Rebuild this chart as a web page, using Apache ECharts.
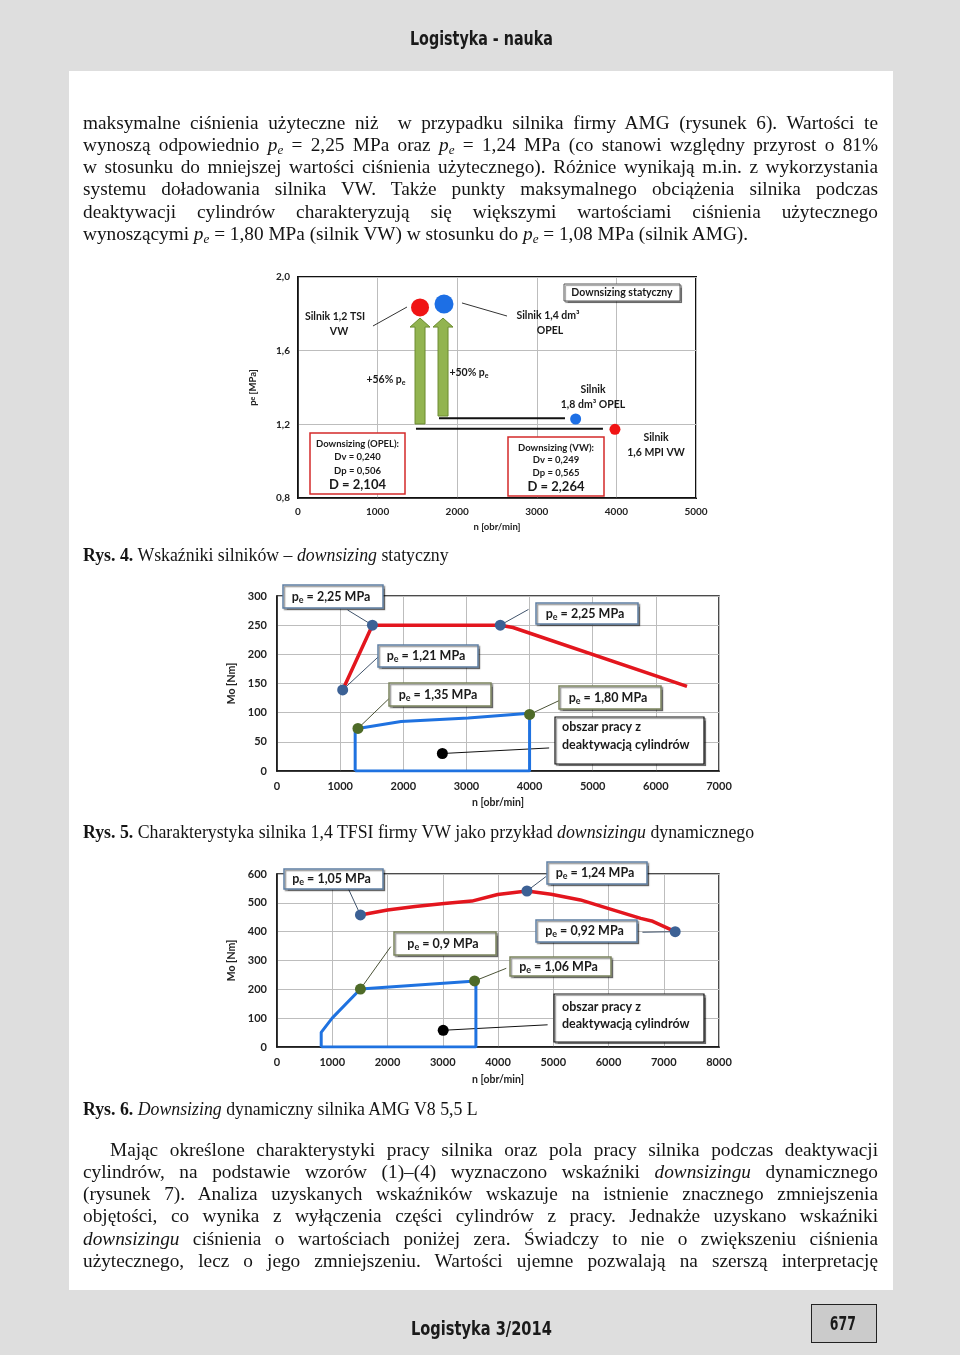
<!DOCTYPE html>
<html><head><meta charset="utf-8"><title>Downsizing</title>
<script src="https://cdn.jsdelivr.net/npm/echarts@6/dist/echarts.min.js"></script>
<style>
html,body{margin:0;padding:0;background:#dedede;}
#page{position:relative;width:960px;height:1355px;overflow:hidden;background:#dedede;}
#panel{position:absolute;left:69px;top:71px;width:824px;height:1219px;background:#fff;}
#chart{position:absolute;left:0;top:0;width:960px;height:1355px;}
.ln{position:absolute;white-space:nowrap;font-family:"Liberation Serif","Times New Roman",serif;font-size:19.3px;line-height:22px;color:#141414;}
.ln sub{font-size:0.68em;vertical-align:-0.22em;line-height:0;}
.cap{font-size:17.8px;}
.hd{position:absolute;white-space:nowrap;font-family:"DejaVu Sans Condensed","DejaVu Sans",sans-serif;font-weight:bold;font-size:19px;color:#1a1a1a;line-height:24px;}
#pgbox{position:absolute;left:811px;top:1304px;width:64px;height:37px;border:1.5px solid #222;background:#cbcbcb;}
</style></head>
<body>
<div id="page">
  <div id="panel"></div>
  <div id="chart"></div>
  <div id="pgbox"></div>
</div>
<script>
// ---------------- DATA ----------------
// Rys. 4 – downsizing statyczny  [n (obr/min), pe (MPa)]
const fig4VW   = [[1533, 1.835], [3982, 1.173]];   // Silnik 1,2 TSI VW ; Silnik 1,6 MPI VW
const fig4Opel = [[1834, 1.853], [3488, 1.229]];   // Silnik 1,4 dm3 OPEL ; Silnik 1,8 dm3 OPEL
const fig4Arrows = [[1533, 1.202, 1.777], [1822, 1.245, 1.777]]; // x, from pe, to pe
const fig4RefLines = [[[1482, 1.176], [3831, 1.176]], [[1771, 1.233], [3354, 1.233]]];
const fig4Leaders = [[[942, 1.734], [1369, 1.837]], [[2060, 1.859], [2626, 1.788]]];

// Rys. 5 – VW 1,4 TFSI  [n (obr/min), Mo (Nm)]
const fig5Full    = [[1040, 139], [1511, 250], [3536, 250], [3737, 246], [6493, 145]];
const fig5FullPts = [[1040, 139], [1511, 250], [3536, 250]];
const fig5Deact   = [[1238, 0], [1238, 67], [1282, 73], [1964, 85], [3028, 91], [4000, 99], [4000, 0], [1238, 0]];
const fig5DeactPts = [[1282, 73], [4000, 97]];
const fig5Dot     = [[2619, 30]];
const fig5DotLine = [[2619, 30], [4310, 39.5]];
const fig5Leaders = [[[1118, 276], [1511, 250]], [[3983, 277], [3536, 250]], [[1637, 199], [1040, 139]],
                     [[1773, 124], [1282, 73]], [[4474, 121], [4000, 97]]];

// Rys. 6 – AMG V8 5,5 L
const fig6Full    = [[1510, 458], [2000, 475], [2500, 487], [3026, 498], [3526, 506], [3994, 529], [4524, 541],
                     [4961, 530], [5491, 510], [5990, 481], [6583, 446], [6800, 436], [7207, 400]];
const fig6FullPts = [[1510, 458], [4524, 541], [7207, 400]];
const fig6Deact   = [[800, 0], [800, 51], [998, 100], [1510, 201], [3600, 229], [3600, 0], [800, 0]];
const fig6DeactPts = [[1510, 201], [3576, 229]];
const fig6Dot     = [[3008, 58]];
const fig6DotLine = [[3008, 58], [4898, 77]];
const fig6Leaders = [[[1279, 554], [1510, 458]], [[4867, 591], [4524, 541]], [[6614, 398], [7207, 400]],
                     [[2059, 348], [1510, 201]], [[4150, 273], [3576, 229]]];

// label texts
const fig5Labels = ['2,25', '2,25', '1,21', '1,35', '1,80'];
const fig6Labels = ['1,05', '1,24', '0,92', '0,9', '1,06'];

// body text
const PARA1 = [
 'maksymalne ciśnienia użyteczne niż&nbsp; w przypadku silnika firmy AMG (rysunek 6). Wartości te',
 'wynoszą odpowiednio <i>p<sub>e</sub></i> = 2,25 MPa oraz <i>p<sub>e</sub></i> = 1,24 MPa (co stanowi względny przyrost o 81%',
 'w stosunku do mniejszej wartości ciśnienia użytecznego). Różnice wynikają m.in. z wykorzystania',
 'systemu doładowania silnika VW. Także punkty maksymalnego obciążenia silnika podczas',
 'deaktywacji cylindrów charakteryzują się większymi wartościami ciśnienia użytecznego',
 'wynoszącymi <i>p<sub>e</sub></i> = 1,80 MPa (silnik VW) w stosunku do <i>p<sub>e</sub></i> = 1,08 MPa (silnik AMG).'
];
const PARA2 = [
 'Mając określone charakterystyki pracy silnika oraz pola pracy silnika podczas deaktywacji',
 'cylindrów, na podstawie wzorów (1)–(4) wyznaczono wskaźniki <i>downsizingu</i> dynamicznego',
 '(rysunek 7). Analiza uzyskanych wskaźników wskazuje na istnienie znacznego zmniejszenia',
 'objętości, co wynika z wyłączenia części cylindrów z pracy. Jednakże uzyskano wskaźniki',
 '<i>downsizingu</i> ciśnienia o wartościach poniżej zera. Świadczy to nie o zwiększeniu ciśnienia',
 'użytecznego, lecz o jego zmniejszeniu. Wartości ujemne pozwalają na szerszą interpretację'
];
const CAP4 = '<b>Rys. 4.</b> Wskaźniki silników – <i>downsizing</i> statyczny';
const CAP5 = '<b>Rys. 5.</b> Charakterystyka silnika 1,4 TFSI firmy VW jako przykład <i>downsizingu</i> dynamicznego';
const CAP6 = '<b>Rys. 6.</b> <i>Downsizing</i> dynamiczny silnika AMG V8 5,5 L';

// ---------------- PAGE TEXT ----------------
const page = document.getElementById('page');
function addLine(html, left, top, width, justify, cls) {
  const d = document.createElement('div');
  d.className = 'ln ' + (cls || '');
  d.innerHTML = html;
  d.style.left = left + 'px'; d.style.top = top + 'px';
  page.appendChild(d);
  if (justify) {
    const w = d.getBoundingClientRect().width;
    const n = (d.textContent.match(/[ \u00a0]/g) || []).length;
    if (n) d.style.wordSpacing = ((width - w) / n) + 'px';
  }
  return d;
}
const LSTEP = 22.3;
PARA1.forEach((t, i) => addLine(t, 83, 111.5 + i * LSTEP, 795, i < PARA1.length - 1));
PARA2.forEach((t, i) => addLine(t, i === 0 ? 110 : 83, 1138.5 + i * LSTEP, i === 0 ? 768 : 795, true));
addLine(CAP4, 83, 544, 0, false, 'cap');
addLine(CAP5, 83, 821, 0, false, 'cap');
addLine(CAP6, 83, 1098, 0, false, 'cap');

function addHead(text, cx, cy, width) {
  const d = document.createElement('div');
  d.className = 'hd'; d.textContent = text;
  page.appendChild(d);
  const w = d.getBoundingClientRect().width, h = d.getBoundingClientRect().height;
  const s = width ? width / w : 1;
  d.style.left = (cx - w / 2) + 'px'; d.style.top = (cy - h / 2) + 'px';
  d.style.transform = 'scaleX(' + s + ')';
  d.style.transformOrigin = '50% 50%';
}
addHead('Logistyka - nauka', 481, 38, 143);
addHead('Logistyka 3/2014', 481, 1328, 141);
addHead('677', 843, 1323, 26);

// ---------------- CHART ----------------
const FF = 'Lato, "Open Sans", sans-serif';
const fnt = (s, w) => (w || 'bold') + ' ' + s + 'px ' + FF;
const comma1 = v => v.toFixed(1).replace('.', ',');
const plain = v => String(Math.round(v));
const RED = '#e3161e', BLUE = '#1f72e0', MARK_B = '#3c6195', MARK_G = '#4e6b28';
const TXT = '#1a1a1a';

function axisX(gi, max, interval, size, margin, name, gap) {
  return {type: 'value', gridIndex: gi, min: 0, max: max, interval: interval,
    axisLine: {show: true, onZero: false, lineStyle: {color: '#111', width: 1.5}},
    axisTick: {show: false},
    axisLabel: {color: '#222', fontFamily: FF, fontWeight: 'bold', fontSize: size, margin: margin, formatter: plain},
    splitLine: {show: true, lineStyle: {color: '#bdbdbd', width: 1}},
    name: name, nameLocation: 'middle', nameGap: gap,
    nameTextStyle: {color: '#222', fontFamily: FF, fontWeight: 'bold', fontSize: size - 0.5}};
}
function axisY(gi, min, max, interval, size, margin, fmt, name, gap, rich) {
  return {type: 'value', gridIndex: gi, min: min, max: max, interval: interval,
    axisLine: {show: true, onZero: false, lineStyle: {color: '#111', width: 1.5}},
    axisTick: {show: false},
    axisLabel: {color: '#222', fontFamily: FF, fontWeight: 'bold', fontSize: size, margin: margin, formatter: fmt},
    splitLine: {show: true, lineStyle: {color: '#bdbdbd', width: 1}},
    name: name, nameLocation: 'middle', nameGap: gap, nameRotate: 90,
    nameTextStyle: Object.assign({color: '#222', fontFamily: FF, fontWeight: 'bold', fontSize: size - 0.5}, rich ? {rich: rich} : {})};
}

function arrowRender(params, api) {
  const x = api.value(0), y0 = api.value(1), y1 = api.value(2);
  const b = api.coord([x, y0]), t = api.coord([x, y1]);
  const sw = 5, hw = 10, hh = 9;
  return {type: 'polygon', shape: {points: [
    [b[0] - sw, b[1]], [b[0] - sw, t[1] + hh], [b[0] - hw, t[1] + hh], [b[0], t[1]],
    [b[0] + hw, t[1] + hh], [b[0] + sw, t[1] + hh], [b[0] + sw, b[1]]]},
    style: {fill: '#92b450', stroke: '#6c8c30', lineWidth: 1}};
}

const series = [];
function seg(gi, data, color, width, z) {
  series.push({type: 'line', xAxisIndex: gi, yAxisIndex: gi, data: data, symbol: 'none', silent: true,
    lineStyle: {color: color, width: width}, z: z || 3, animation: false});
}
function pts(gi, data, color, size, z) {
  series.push({type: 'scatter', xAxisIndex: gi, yAxisIndex: gi, data: data, symbolSize: size, silent: true,
    itemStyle: {color: color, opacity: 1}, z: z || 6, animation: false});
}
// fig 4
series.push({type: 'custom', xAxisIndex: 0, yAxisIndex: 0, data: fig4Arrows, renderItem: arrowRender, z: 3, silent: true, animation: false});
fig4RefLines.forEach(s => seg(0, s, '#111', 2));
fig4Leaders.forEach(s => seg(0, s, '#333', 1));
pts(0, fig4VW, '#f01414', (v, p) => p.dataIndex === 0 ? 18 : 11);
pts(0, fig4Opel, '#1d6fe5', (v, p) => p.dataIndex === 0 ? 19 : 11);
// fig 5
fig5Leaders.forEach((s, i) => seg(1, s, i < 3 ? '#40536b' : '#4a5236', 1, 2));
seg(1, fig5DotLine, '#111', 1, 2);
seg(1, fig5Full, RED, 3.5, 4);
seg(1, fig5Deact, BLUE, 3, 4);
pts(1, fig5FullPts, MARK_B, 11);
pts(1, fig5DeactPts, MARK_G, 11);
pts(1, fig5Dot, '#000', 11);
// fig 6
fig6Leaders.forEach((s, i) => seg(2, s, i < 3 ? '#40536b' : '#4a5236', 1, 2));
seg(2, fig6DotLine, '#111', 1, 2);
seg(2, fig6Full, RED, 3.5, 4);
seg(2, fig6Deact, BLUE, 3, 4);
pts(2, fig6FullPts, MARK_B, 11);
pts(2, fig6DeactPts, MARK_G, 11);
pts(2, fig6Dot, '#000', 11);

// annotation graphics
const G = [];
function rectEl(x, y, w, h, stroke, lw, shadow) {
  G.push({type: 'rect', z: 100, shape: {x: x, y: y, width: w, height: h},
    style: {fill: '#fff', stroke: stroke, lineWidth: lw,
      shadowColor: shadow ? 'rgba(0,0,0,0.4)' : 'rgba(0,0,0,0)', shadowOffsetX: shadow ? 1.5 : 0,
      shadowOffsetY: shadow ? 1.5 : 0, shadowBlur: shadow ? 1 : 0}});
}
function textEl(x, y, text, size, opts) {
  G.push({type: 'text', z: 101, x: x, y: y, style: Object.assign({text: text, font: fnt(size), fill: TXT,
    align: 'center', verticalAlign: 'middle', textAlign: 'center', textVerticalAlign: 'middle'}, opts || {})});
}
function subRich(size) {
  return {b: {font: fnt(size), fill: TXT}, s: {font: fnt(Math.round(size * 0.7)), fill: TXT, padding: [Math.round(size * 0.55), 0, 0, 0]}};
}
function peText(x, y, val, size) {
  textEl(x, y, '{b|p}{s|e}{b| = ' + val + ' MPa}', size, {rich: subRich(size)});
}

// fig 4 annotations
textEl(335, 317, 'Silnik 1,2 TSI', 10.5);
textEl(339, 332, 'VW', 10.5);
textEl(548, 316, 'Silnik 1,4 dm³', 10.5);
textEl(550, 331, 'OPEL', 10.5);
textEl(386, 380, '{b|+56% p}{s|e}', 10.5, {rich: subRich(10.5)});
textEl(469, 373, '{b|+50% p}{s|e}', 10.5, {rich: subRich(10.5)});
textEl(593, 390, 'Silnik', 10.5);
textEl(593, 405, '1,8 dm³ OPEL', 10.5);
textEl(656, 438, 'Silnik', 10.5);
textEl(656, 453, '1,6 MPI VW', 10.5);
rectEl(564, 284, 116, 17, '#555', 1, true);
textEl(622, 292.5, 'Downsizing statyczny', 10.5);
rectEl(310, 433, 95, 61, '#d42a2a', 1.5, false);
textEl(357.5, 443.5, 'Downsizing (OPEL):', 9.5);
textEl(357.5, 457, 'Dv = 0,240', 9.5);
textEl(357.5, 470.5, 'Dp = 0,506', 9.5);
textEl(357.5, 485, 'D = 2,104', 13);
rectEl(508, 437, 96, 59, '#d42a2a', 1.5, false);
textEl(556, 447.5, 'Downsizing (VW):', 9.5);
textEl(556, 460, 'Dv = 0,249', 9.5);
textEl(556, 472.5, 'Dp = 0,565', 9.5);
textEl(556, 487, 'D = 2,264', 13);

// fig 5 annotations
const fig5Boxes = [[283, 585, 100, 23], [536, 603, 102, 21], [378, 645, 100, 22], [389, 683, 102, 23], [559, 686, 102, 23]];
fig5Boxes.forEach((b, i) => {
  rectEl(b[0], b[1], b[2], b[3], i < 3 ? '#5f7fa3' : '#7b845d', 1.5, true);
  peText(b[0] + b[2] / 2 - 2, b[1] + b[3] / 2, fig5Labels[i], 12.5);
});
rectEl(555, 717, 149, 47, '#111', 1.2, true);
textEl(562, 727, 'obszar pracy z', 12.5, {align: 'left', textAlign: 'left'});
textEl(562, 745, 'deaktywacją cylindrów', 12.5, {align: 'left', textAlign: 'left'});

// fig 6 annotations
const fig6Boxes = [[284, 869, 99, 20], [547, 862, 100, 22], [536, 920, 101, 22], [394, 932, 102, 23], [510, 957, 101, 19]];
fig6Boxes.forEach((b, i) => {
  rectEl(b[0], b[1], b[2], b[3], i < 3 ? '#5f7fa3' : '#7b845d', 1.5, true);
  peText(b[0] + b[2] / 2 - 2, b[1] + b[3] / 2, fig6Labels[i], 12.5);
});
rectEl(554, 994, 150, 48, '#111', 1.2, true);
textEl(562, 1006.5, 'obszar pracy z', 12.5, {align: 'left', textAlign: 'left'});
textEl(562, 1023.5, 'deaktywacją cylindrów', 12.5, {align: 'left', textAlign: 'left'});

const peRichAxis = {b: {fontFamily: FF, fontWeight: 'bold', fontSize: 9.5, color: '#222'},
                    s: {fontFamily: FF, fontWeight: 'bold', fontSize: 7, color: '#222'}};

const option = {
  backgroundColor: 'transparent',
  animation: false,
  grid: [
    {left: 298, top: 277, width: 398, height: 221, show: true, borderColor: '#111', borderWidth: 2},
    {left: 277, top: 596, width: 442, height: 175, show: true, borderColor: '#111', borderWidth: 1.5},
    {left: 277, top: 874, width: 442, height: 173, show: true, borderColor: '#111', borderWidth: 1.5}
  ],
  xAxis: [
    axisX(0, 5000, 1000, 10, 9, 'n [obr/min]', 24),
    axisX(1, 7000, 1000, 11, 10, 'n [obr/min]', 26),
    axisX(2, 8000, 1000, 11, 10, 'n [obr/min]', 27)
  ],
  yAxis: [
    axisY(0, 0.8, 2.0, 0.4, 10, 8, comma1, '{b|p}{s|e}{b| [MPa]}', 40, peRichAxis),
    axisY(1, 0, 300, 50, 11, 10, plain, 'Mo [Nm]', 40),
    axisY(2, 0, 600, 100, 11, 10, plain, 'Mo [Nm]', 40)
  ],
  series: series,
  graphic: G
};
const chart = echarts.init(document.getElementById('chart'));
chart.setOption(option);
</script>
</body></html>
